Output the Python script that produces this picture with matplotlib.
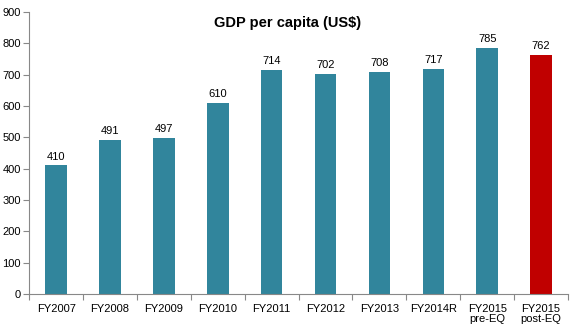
import matplotlib
matplotlib.use("Agg")
import matplotlib.pyplot as plt
import numpy as np

years = ["FY2007", "FY2008", "FY2009", "FY2010", "FY2011", "FY2012",
         "FY2013", "FY2014R", "FY2015\npre-EQ", "FY2015\npost-EQ"]
gdp_pc = [410, 491, 497, 610, 714, 702, 708, 717, 785, 762]

TEAL = "#31859C"
RED = "#C00000"

plt.rcParams["font.family"] = ["Liberation Sans", "DejaVu Sans"]

fig = plt.figure(figsize=(5.72, 3.31), dpi=100)
ax = fig.add_axes([0.051, 0.112, 0.942, 0.852])

x = np.arange(len(years))
colors = [TEAL] * (len(years) - 1) + [RED]
ax.bar(x, gdp_pc, width=0.4, color=colors)

for xi, v in zip(x, gdp_pc):
    ax.text(xi, v + 12, f"{v}", ha="center", va="bottom", fontsize=8)

ax.set_xlim(-0.5, len(years) - 0.5)
ax.set_ylim(0, 900)
ax.set_yticks(range(0, 901, 100))
ax.set_xticks(x)
ax.set_xticklabels(years, fontsize=8, linespacing=1.0)
ax.set_xticks(np.arange(-0.5, len(years), 1.0), minor=True)
ax.tick_params(axis="x", which="major", length=0, pad=7)
ax.tick_params(axis="x", which="minor", length=4, color="#888888", width=0.8)
ax.tick_params(axis="y", labelsize=8, length=4, color="#888888", width=0.8, pad=2)

for side in ("top", "right"):
    ax.spines[side].set_visible(False)
for side in ("left", "bottom"):
    ax.spines[side].set_color("#888888")
    ax.spines[side].set_linewidth(0.8)

ax.text(0.48, 0.985, "GDP per capita (US\\$)", transform=ax.transAxes,
        ha="center", va="top", fontsize=10.5, fontweight="bold")

fig.savefig("out.png", dpi=100)
